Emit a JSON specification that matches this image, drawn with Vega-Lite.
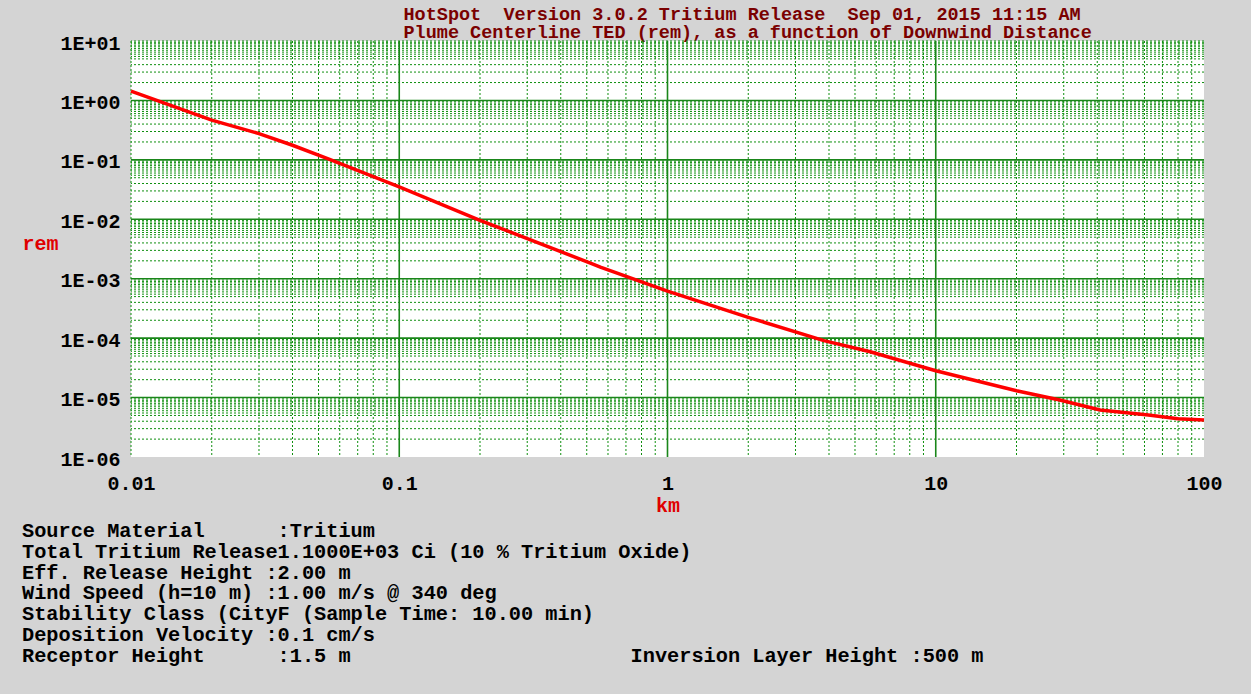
{
  "$schema": "https://vega.github.io/schema/vega-lite/v6.json",
  "width": 1073,
  "height": 416,
  "autosize": {"type": "none"},
  "padding": {"left": 131, "top": 41, "right": 47, "bottom": 237},
  "background": "#d4d4d4",
  "config": {
    "view": {"fill": "white", "stroke": null},
    "font": "Liberation Mono"
  },
  "title": {
    "text": [
      "Source Material\u00a0\u00a0\u00a0\u00a0\u00a0\u00a0:Tritium",
      "Total Tritium Release1.1000E+03 Ci (10 % Tritium Oxide)",
      "Eff. Release Height :2.00 m",
      "Wind Speed (h=10 m) :1.00 m/s @ 340 deg",
      "Stability Class (CityF (Sample Time: 10.00 min)",
      "Deposition Velocity :0.1 cm/s",
      "Receptor Height\u00a0\u00a0\u00a0\u00a0\u00a0\u00a0:1.5 m\u00a0\u00a0\u00a0\u00a0\u00a0\u00a0\u00a0\u00a0\u00a0\u00a0\u00a0\u00a0\u00a0\u00a0\u00a0\u00a0\u00a0\u00a0\u00a0\u00a0\u00a0\u00a0\u00a0Inversion Layer Height :500 m"
    ],
    "orient": "bottom",
    "anchor": "start",
    "frame": "group",
    "align": "left",
    "dx": -109,
    "offset": 6,
    "baseline": "top",
    "lineHeight": 20.8,
    "font": "Liberation Mono",
    "fontSize": 20.3,
    "fontWeight": "bold",
    "color": "#000000"
  },
  "datasets": {
    "vmaj": [{"v": 0.1}, {"v": 1}, {"v": 10}],
    "vmin": [
      {"v": 0.01}, {"v": 0.02}, {"v": 0.03}, {"v": 0.04}, {"v": 0.05}, {"v": 0.06}, {"v": 0.07}, {"v": 0.08}, {"v": 0.09},
      {"v": 0.2}, {"v": 0.3}, {"v": 0.4}, {"v": 0.5}, {"v": 0.6}, {"v": 0.7}, {"v": 0.8}, {"v": 0.9},
      {"v": 2}, {"v": 3}, {"v": 4}, {"v": 5}, {"v": 6}, {"v": 7}, {"v": 8}, {"v": 9},
      {"v": 20}, {"v": 30}, {"v": 40}, {"v": 50}, {"v": 60}, {"v": 70}, {"v": 80}, {"v": 90}
    ],
    "hmaj": [{"v": 1}, {"v": 0.1}, {"v": 0.01}, {"v": 0.001}, {"v": 0.0001}, {"v": 0.00001}],
    "hmin": [
      {"v": 10},
      {"v": 2}, {"v": 3}, {"v": 4}, {"v": 5}, {"v": 5.5}, {"v": 6}, {"v": 6.5}, {"v": 7}, {"v": 7.5}, {"v": 8}, {"v": 8.5}, {"v": 9}, {"v": 9.5},
      {"v": 0.2}, {"v": 0.3}, {"v": 0.4}, {"v": 0.5}, {"v": 0.55}, {"v": 0.6}, {"v": 0.65}, {"v": 0.7}, {"v": 0.75}, {"v": 0.8}, {"v": 0.85}, {"v": 0.9}, {"v": 0.95},
      {"v": 0.02}, {"v": 0.03}, {"v": 0.04}, {"v": 0.05}, {"v": 0.055}, {"v": 0.06}, {"v": 0.065}, {"v": 0.07}, {"v": 0.075}, {"v": 0.08}, {"v": 0.085}, {"v": 0.09}, {"v": 0.095},
      {"v": 0.002}, {"v": 0.003}, {"v": 0.004}, {"v": 0.005}, {"v": 0.0055}, {"v": 0.006}, {"v": 0.0065}, {"v": 0.007}, {"v": 0.0075}, {"v": 0.008}, {"v": 0.0085}, {"v": 0.009}, {"v": 0.0095},
      {"v": 0.0002}, {"v": 0.0003}, {"v": 0.0004}, {"v": 0.0005}, {"v": 0.00055}, {"v": 0.0006}, {"v": 0.00065}, {"v": 0.0007}, {"v": 0.00075}, {"v": 0.0008}, {"v": 0.00085}, {"v": 0.0009}, {"v": 0.00095},
      {"v": 0.00002}, {"v": 0.00003}, {"v": 0.00004}, {"v": 0.00005}, {"v": 0.000055}, {"v": 0.00006}, {"v": 0.000065}, {"v": 0.00007}, {"v": 0.000075}, {"v": 0.00008}, {"v": 0.000085}, {"v": 0.00009}, {"v": 0.000095},
      {"v": 0.000002}, {"v": 0.000003}, {"v": 0.000004}, {"v": 0.000005}, {"v": 0.0000055}, {"v": 0.000006}, {"v": 0.0000065}, {"v": 0.000007}, {"v": 0.0000075}, {"v": 0.000008}, {"v": 0.0000085}, {"v": 0.000009}, {"v": 0.0000095}
    ],
    "curve": [
      {"km": 0.01, "rem": 1.43},
      {"km": 0.02, "rem": 0.465},
      {"km": 0.03, "rem": 0.277},
      {"km": 0.04, "rem": 0.176},
      {"km": 0.055, "rem": 0.102},
      {"km": 0.1, "rem": 0.035},
      {"km": 0.2, "rem": 0.0096},
      {"km": 0.516, "rem": 0.00183},
      {"km": 0.562, "rem": 0.00156},
      {"km": 1, "rem": 0.00062},
      {"km": 2, "rem": 0.000224},
      {"km": 3.83, "rem": 0.000091},
      {"km": 5.7, "rem": 0.000059},
      {"km": 10, "rem": 0.0000283},
      {"km": 20, "rem": 0.000013},
      {"km": 29, "rem": 0.0000091},
      {"km": 41, "rem": 0.0000062},
      {"km": 62, "rem": 0.0000051},
      {"km": 80, "rem": 0.0000044},
      {"km": 100, "rem": 0.0000042}
    ]
  },
  "resolve": {"axis": {"x": "independent", "y": "independent"}},
  "layer": [
    {
      "data": {"name": "vmin"},
      "mark": {"type": "rule", "color": "#0f8f0f", "strokeWidth": 1, "strokeDash": [2, 2]},
      "encoding": {
        "x": {
          "field": "v", "type": "quantitative",
          "scale": {"type": "log", "domain": [0.01, 100], "nice": false},
          "axis": {
            "orient": "top",
            "labels": false, "ticks": false, "domain": false, "grid": false,
            "title": [
              "HotSpot\u00a0\u00a0Version 3.0.2 Tritium Release\u00a0\u00a0Sep 01, 2015 11:15 AM",
              "Plume Centerline TED (rem), as a function of Downwind Distance"
            ],
            "titleFont": "Liberation Mono",
            "titleFontSize": 18.5,
            "titleFontWeight": "bold",
            "titleColor": "#7a0000",
            "titleAlign": "left",
            "titleBaseline": "alphabetic",
            "titleAnchor": "start",
            "titleX": 272,
            "titleY": -22,
            "titleLineHeight": 18.5
          }
        }
      }
    },
    {
      "data": {"name": "hmin"},
      "mark": {"type": "rule", "color": "#0f8f0f", "strokeWidth": 1, "strokeDash": [2, 2]},
      "encoding": {
        "y": {
          "field": "v", "type": "quantitative",
          "scale": {"type": "log", "domain": [0.000001, 10], "nice": false},
          "axis": null
        }
      }
    },
    {
      "data": {"name": "vmaj"},
      "mark": {"type": "rule", "color": "#1a861a", "strokeWidth": 1.6},
      "encoding": {
        "x": {
          "field": "v", "type": "quantitative",
          "scale": {"type": "log", "domain": [0.01, 100], "nice": false},
          "axis": null
        }
      }
    },
    {
      "data": {"name": "hmaj"},
      "mark": {"type": "rule", "color": "#1a861a", "strokeWidth": 1.6},
      "encoding": {
        "y": {
          "field": "v", "type": "quantitative",
          "scale": {"type": "log", "domain": [0.000001, 10], "nice": false},
          "axis": null
        }
      }
    },
    {
      "data": {"name": "curve"},
      "mark": {"type": "line", "color": "#ff0000", "strokeWidth": 3.5},
      "encoding": {
        "x": {
          "field": "km", "type": "quantitative",
          "scale": {"type": "log", "domain": [0.01, 100], "nice": false},
          "axis": {
            "orient": "bottom",
            "values": [0.01, 0.1, 1, 10, 100],
            "format": "~g",
            "ticks": false, "domain": false, "grid": false,
            "labelFont": "Liberation Mono", "labelFontSize": 20, "labelFontWeight": "bold",
            "labelColor": "#000000", "labelPadding": 16, "labelFlush": false, "labelOverlap": false,
            "title": "km",
            "titleFont": "Liberation Mono", "titleFontSize": 20, "titleFontWeight": "bold",
            "titleColor": "#e00000",
            "titleBaseline": "middle",
            "titleY": 48
          }
        },
        "y": {
          "field": "rem", "type": "quantitative",
          "scale": {"type": "log", "domain": [0.000001, 10], "nice": false},
          "axis": {
            "orient": "left",
            "values": [10, 1, 0.1, 0.01, 0.001, 0.0001, 0.00001, 0.000001],
            "labelExpr": "datum.value >= 10 ? '1E+01' : datum.value >= 1 ? '1E+00' : '1E-0' + round(-log(datum.value) / LN10)",
            "ticks": false, "domain": false, "grid": false,
            "labelFont": "Liberation Mono", "labelFontSize": 20, "labelFontWeight": "bold",
            "labelColor": "#000000", "labelPadding": 11, "labelFlush": false, "labelOverlap": false,
            "labelBaseline": "middle", "labelOffset": 2,
            "title": "rem",
            "titleFont": "Liberation Mono", "titleFontSize": 20, "titleFontWeight": "bold",
            "titleColor": "#e00000",
            "titleAngle": 0,
            "titleAlign": "left",
            "titleBaseline": "middle",
            "titleX": -109,
            "titleY": 202
          }
        }
      }
    }
  ]
}
